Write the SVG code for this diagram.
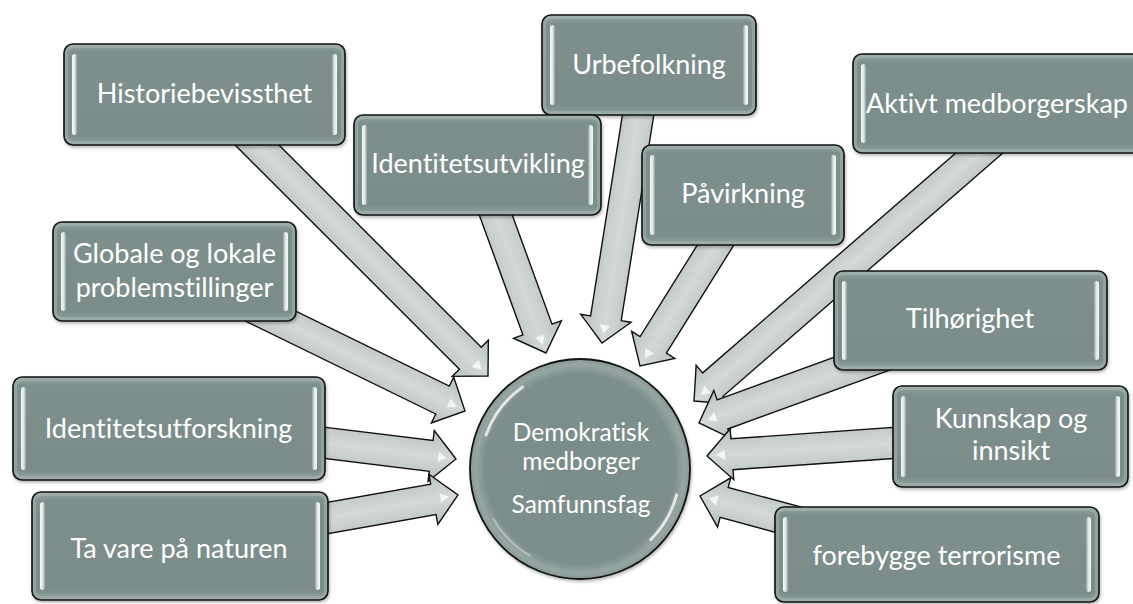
<svg xmlns="http://www.w3.org/2000/svg" width="1133" height="604" viewBox="0 0 1133 604">
<defs>
  <linearGradient id="boxFill" x1="0" y1="0" x2="0" y2="1">
    <stop offset="0" stop-color="#98a9a6"/>
    <stop offset="0.08" stop-color="#7d908d"/>
    <stop offset="0.9" stop-color="#7a8d8a"/>
    <stop offset="1" stop-color="#93a4a1"/>
  </linearGradient>
  <linearGradient id="barL" x1="0" y1="0" x2="1" y2="0">
    <stop offset="0" stop-color="#f4f9f8"/>
    <stop offset="0.55" stop-color="#dde7e5"/>
    <stop offset="1" stop-color="#8d9f9c"/>
  </linearGradient>
  <linearGradient id="barR" x1="1" y1="0" x2="0" y2="0">
    <stop offset="0" stop-color="#f4f9f8"/>
    <stop offset="0.55" stop-color="#dde7e5"/>
    <stop offset="1" stop-color="#8d9f9c"/>
  </linearGradient>
  <linearGradient id="arrowFill" x1="0" y1="0" x2="0" y2="1">
    <stop offset="0" stop-color="#b7c0be"/>
    <stop offset="0.3" stop-color="#c9d0ce"/>
    <stop offset="0.5" stop-color="#d3d9d8"/>
    <stop offset="0.7" stop-color="#c9d0ce"/>
    <stop offset="1" stop-color="#b7c0be"/>
  </linearGradient>
  <radialGradient id="circFill" cx="0.5" cy="0.5" r="0.5">
    <stop offset="0" stop-color="#7a8d8a"/>
    <stop offset="0.86" stop-color="#7c8f8c"/>
    <stop offset="0.95" stop-color="#95a6a3"/>
    <stop offset="1" stop-color="#869895"/>
  </radialGradient>
  <filter id="shadow" x="-5%" y="-5%" width="112%" height="125%">
    <feDropShadow dx="1" dy="2" stdDeviation="1.5" flood-color="#000" flood-opacity="0.28"/>
  </filter>
</defs>
<style>
  .box{fill:url(#boxFill);stroke:#151515;stroke-width:1.6;filter:url(#shadow)}
  .bevel{fill:none;stroke:#a7b7b4;stroke-width:3;opacity:0.5}
  .bl{fill:url(#barL)}
  .br{fill:url(#barR)}
  .arrow{fill:url(#arrowFill);stroke:#111;stroke-width:1.4;stroke-linejoin:miter}
  .hl{fill:#f7fafa;opacity:0.9}
  text{font-family:Lato,"Noto Sans",sans-serif;fill:#ffffff;text-anchor:middle;font-variant-ligatures:none}
  .t{font-size:27px}
  .c{font-size:24.5px}
  .gl{fill:none;stroke:#ffffff;stroke-linecap:round}
</style>

<g id="connectors">
  <g transform="translate(465,411) rotate(26)"><path class="arrow" d="M-300,-15.5 H-25 V-25.5 L0,0 L-25,25.5 V15.5 H-300 Z"/><path class="hl" d="M-9,0 L-18,-5 L-18,5 Z"/></g>
  <g transform="translate(488,376) rotate(45)"><path class="arrow" d="M-380,-15.5 H-25 V-25.5 L0,0 L-25,25.5 V15.5 H-380 Z"/><path class="hl" d="M-9,0 L-18,-5 L-18,5 Z"/></g>
  <g transform="translate(456,459) rotate(7)"><path class="arrow" d="M-250,-15.5 H-25 V-25.5 L0,0 L-25,25.5 V15.5 H-250 Z"/><path class="hl" d="M-9,0 L-18,-5 L-18,5 Z"/></g>
  <g transform="translate(458,495) rotate(-10)"><path class="arrow" d="M-250,-15.5 H-25 V-25.5 L0,0 L-25,25.5 V15.5 H-250 Z"/><path class="hl" d="M-9,0 L-18,-5 L-18,5 Z"/></g>
  <g transform="translate(546,353) rotate(70)"><path class="arrow" d="M-200,-15.5 H-25 V-25.5 L0,0 L-25,25.5 V15.5 H-200 Z"/><path class="hl" d="M-9,0 L-18,-5 L-18,5 Z"/></g>
  <g transform="translate(602,343) rotate(99)"><path class="arrow" d="M-250,-15.5 H-25 V-25.5 L0,0 L-25,25.5 V15.5 H-250 Z"/><path class="hl" d="M-9,0 L-18,-5 L-18,5 Z"/></g>
  <g transform="translate(640,366) rotate(122)"><path class="arrow" d="M-200,-15.5 H-25 V-25.5 L0,0 L-25,25.5 V15.5 H-200 Z"/><path class="hl" d="M-9,0 L-18,-5 L-18,5 Z"/></g>
  <g transform="translate(694,401) rotate(139)"><path class="arrow" d="M-400,-15.5 H-25 V-25.5 L0,0 L-25,25.5 V15.5 H-400 Z"/><path class="hl" d="M-9,0 L-18,-5 L-18,5 Z"/></g>
  <g transform="translate(699,423) rotate(160)"><path class="arrow" d="M-250,-15.5 H-25 V-25.5 L0,0 L-25,25.5 V15.5 H-250 Z"/><path class="hl" d="M-9,0 L-18,-5 L-18,5 Z"/></g>
  <g transform="translate(707,456) rotate(176)"><path class="arrow" d="M-250,-15.5 H-25 V-25.5 L0,0 L-25,25.5 V15.5 H-250 Z"/><path class="hl" d="M-9,0 L-18,-5 L-18,5 Z"/></g>
  <g transform="translate(700,496) rotate(195)"><path class="arrow" d="M-200,-15.5 H-25 V-25.5 L0,0 L-25,25.5 V15.5 H-200 Z"/><path class="hl" d="M-9,0 L-18,-5 L-18,5 Z"/></g>
</g>

<g id="n-historiebevissthet">
  <rect class="box" x="64" y="44" width="281" height="101" rx="9"/>
  <rect class="bevel" x="66.5" y="46.5" width="276" height="96" rx="7"/>
  <rect class="bl" x="72" y="54" width="5" height="81" rx="2.5"/>
  <rect class="br" x="332" y="54" width="5" height="81" rx="2.5"/>
  <text class="t" x="204.5" y="103">Historiebevissthet</text>
</g>
<g id="n-urbefolkning">
  <rect class="box" x="542" y="15" width="214" height="100" rx="9"/>
  <rect class="bevel" x="544.5" y="17.5" width="209" height="95" rx="7"/>
  <rect class="bl" x="550" y="25" width="5" height="80" rx="2.5"/>
  <rect class="br" x="743" y="25" width="5" height="80" rx="2.5"/>
  <text class="t" x="649" y="74">Urbefolkning</text>
</g>
<g id="n-aktivt">
  <rect class="box" x="853" y="54" width="300" height="99" rx="9"/>
  <rect class="bevel" x="855.5" y="56.5" width="295" height="94" rx="7"/>
  <rect class="bl" x="861" y="64" width="5" height="79" rx="2.5"/>
  <text class="t" x="997" y="113">Aktivt medborgerskap</text>
</g>
<g id="n-identitetsutvikling">
  <rect class="box" x="354" y="115" width="247" height="100" rx="9"/>
  <rect class="bevel" x="356.5" y="117.5" width="242" height="95" rx="7"/>
  <rect class="bl" x="362" y="125" width="5" height="80" rx="2.5"/>
  <rect class="br" x="588" y="125" width="5" height="80" rx="2.5"/>
  <text class="t" x="478" y="173">Identitetsutvikling</text>
</g>
<g id="n-pavirkning">
  <rect class="box" x="642" y="145" width="202" height="100" rx="9"/>
  <rect class="bevel" x="644.5" y="147.5" width="197" height="95" rx="7"/>
  <rect class="bl" x="650" y="155" width="5" height="80" rx="2.5"/>
  <rect class="br" x="831" y="155" width="5" height="80" rx="2.5"/>
  <text class="t" x="743" y="203">Påvirkning</text>
</g>
<g id="n-globale">
  <rect class="box" x="53" y="222" width="243" height="99" rx="9"/>
  <rect class="bevel" x="55.5" y="224.5" width="238" height="94" rx="7"/>
  <rect class="bl" x="61" y="232" width="5" height="79" rx="2.5"/>
  <rect class="br" x="283" y="232" width="5" height="79" rx="2.5"/>
  <text class="t" x="174.5" y="263">Globale og lokale</text>
  <text class="t" x="174.5" y="297">problemstillinger</text>
</g>
<g id="n-identitetsutforskning">
  <rect class="box" x="13" y="377" width="312" height="103" rx="9"/>
  <rect class="bevel" x="15.5" y="379.5" width="307" height="98" rx="7"/>
  <rect class="bl" x="21" y="387" width="5" height="83" rx="2.5"/>
  <rect class="br" x="312" y="387" width="5" height="83" rx="2.5"/>
  <text class="t" x="168.5" y="438">Identitetsutforskning</text>
</g>
<g id="n-tavare">
  <rect class="box" x="32" y="492" width="296" height="108" rx="9"/>
  <rect class="bevel" x="34.5" y="494.5" width="291" height="103" rx="7"/>
  <rect class="bl" x="40" y="502" width="5" height="88" rx="2.5"/>
  <rect class="br" x="315" y="502" width="5" height="88" rx="2.5"/>
  <text class="t" x="179" y="558">Ta vare på naturen</text>
</g>
<g id="n-tilhorighet">
  <rect class="box" x="834" y="271" width="273" height="99" rx="9"/>
  <rect class="bevel" x="836.5" y="273.5" width="268" height="94" rx="7"/>
  <rect class="bl" x="842" y="281" width="5" height="79" rx="2.5"/>
  <rect class="br" x="1094" y="281" width="5" height="79" rx="2.5"/>
  <text class="t" x="970" y="328">Tilhørighet</text>
</g>
<g id="n-kunnskap">
  <rect class="box" x="893" y="386" width="235" height="101" rx="9"/>
  <rect class="bevel" x="895.5" y="388.5" width="230" height="96" rx="7"/>
  <rect class="bl" x="901" y="396" width="5" height="81" rx="2.5"/>
  <rect class="br" x="1115" y="396" width="5" height="81" rx="2.5"/>
  <text class="t" x="1011" y="428">Kunnskap og</text>
  <text class="t" x="1011" y="460">innsikt</text>
</g>
<g id="n-forebygge">
  <rect class="box" x="775" y="507" width="324" height="95" rx="9"/>
  <rect class="bevel" x="777.5" y="509.5" width="319" height="90" rx="7"/>
  <rect class="bl" x="783" y="517" width="5" height="75" rx="2.5"/>
  <rect class="br" x="1086" y="517" width="5" height="75" rx="2.5"/>
  <text class="t" x="936.5" y="565">forebygge terrorisme</text>
</g>

<g id="n-center">
  <circle cx="580" cy="469" r="110" fill="url(#circFill)" stroke="#121212" stroke-width="1.8" filter="url(#shadow)"/>
  <path class="gl" d="M486,435 A100,100 0 0 1 522.6,387" stroke-width="3" opacity="0.75"/>
  <path class="gl" d="M676.6,494.9 A100,100 0 0 1 650.7,539.7" stroke-width="3" opacity="0.75"/>
  <path class="gl" d="M530,555.6 A100,100 0 0 1 493.4,519" stroke-width="2" opacity="0.35"/>
  <text class="c" x="581" y="441">Demokratisk</text>
  <text class="c" x="581" y="470">medborger</text>
  <text class="c" x="581" y="513">Samfunnsfag</text>
</g>
</svg>
